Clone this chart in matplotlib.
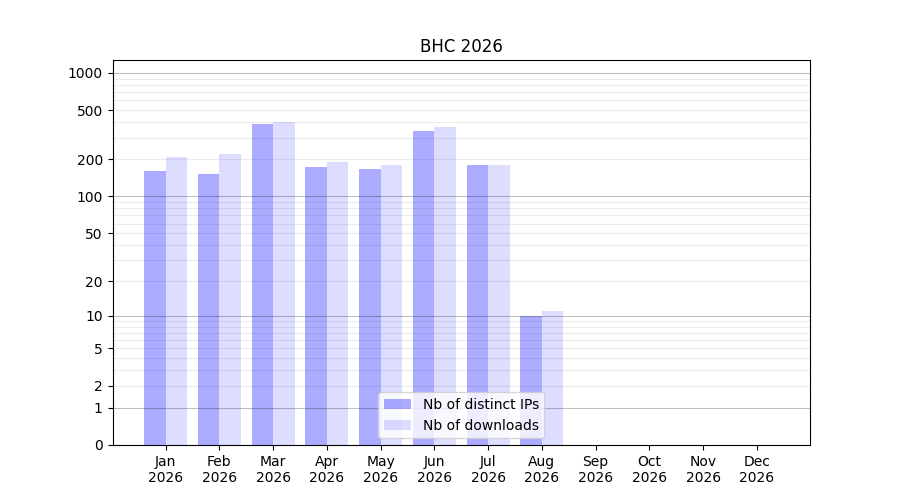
import numpy as np
import matplotlib
matplotlib.use("Agg")
import matplotlib.pyplot as plt

months = ["Jan", "Feb", "Mar", "Apr", "May", "Jun", "Jul", "Aug", "Sep", "Oct", "Nov", "Dec"]
year = "2026"
distinct_ips = [161, 152, 387, 174, 167, 340, 180, 10, 0, 0, 0, 0]
downloads = [209, 221, 401, 190, 180, 366, 180, 11, 0, 0, 0, 0]
labeled_ticks = [0, 1, 2, 5, 10, 20, 50, 100, 200, 500, 1000]
major_lines = [1, 10, 100, 1000]

fig, ax = plt.subplots(figsize=(9, 5), dpi=100)
x = np.arange(len(months))
w = 0.4
ax.bar(x - w / 2, distinct_ips, w, color="blue", alpha=0.33, linewidth=0, label="Nb of distinct IPs")
ax.bar(x + w / 2, downloads, w, color="blue", alpha=0.135, linewidth=0, label="Nb of downloads")

ax.set_yscale("function", functions=(lambda v: np.log10(np.asarray(v) + 1.0),
                                     lambda v: 10.0 ** np.asarray(v) - 1.0))
ax.set_ylim(0, 1270)

all_lines = [0] + [m * d for d in (1, 10, 100) for m in range(1, 10)] + [1000]
ax.set_yticks(all_lines)
ax.set_yticklabels([str(v) if v in labeled_ticks else "" for v in all_lines])
ax.grid(True, axis="y")
for v, tick in zip(all_lines, ax.yaxis.get_major_ticks()):
    if v not in labeled_ticks:
        tick.tick1line.set_visible(False)
    if v in major_lines:
        tick.gridline.set_color("black")
        tick.gridline.set_alpha(0.25)
        tick.gridline.set_linewidth(0.8)
    elif v == 0:
        tick.gridline.set_visible(False)
    else:
        tick.gridline.set_color("black")
        tick.gridline.set_alpha(0.075)
        tick.gridline.set_linewidth(0.8)

ax.set_xticks(x)
ax.set_xticklabels([f"{m}\n{year}" for m in months])
ax.set_title("BHC 2026")
ax.legend(loc="lower center")

fig.savefig("out.png", dpi=100)
